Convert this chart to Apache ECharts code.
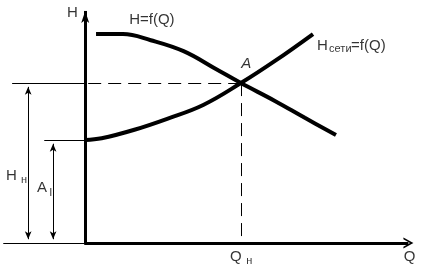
<!DOCTYPE html>
<html><head><meta charset="utf-8">
<script src="https://cdn.jsdelivr.net/npm/echarts@6/dist/echarts.min.js"></script>
<style>html,body{margin:0;padding:0;background:#fff}#c{width:421px;height:271px}</style>
</head><body><div id="c"></div>
<script>
// Pump characteristic H = f(Q)
const pumpQ = [3.3, 11.5, 20.0, 30.0, 40.0, 47.5, 58.0, 67.0, 76.5];
const pumpH = [87.8, 87.8, 85.2, 80.6, 73.0, 67.2, 59.6, 52.6, 45.4];
// Network characteristic Hсети = f(Q)
const netQ = [0, 5.0, 15.0, 25.0, 36.0, 47.5, 58.0, 69.5];
const netH = [43.3, 44.0, 47.6, 52.2, 58.0, 67.2, 76.6, 87.8];
// Operating point A and static head
const opQ = 47.5, opH = 67.2;
const staticH = 43.3;

const FONT = 'Liberation Sans';
const chev = 'path://M0,10 L5,0 L10,10 L8.4,10 L5,3.4 L1.6,10 Z';
const zip = (a, b) => a.map((v, i) => [v, b[i]]);

function lbl(q, h, text, size, extra) {
  return { value: [q, h], label: Object.assign({ formatter: text, fontSize: size }, extra || {}) };
}

const chart = echarts.init(document.getElementById('c'), null, { renderer: 'canvas' });
chart.setOption({
  animation: false,
  backgroundColor: '#fff',
  grid: { left: 0, right: 8, top: 5, bottom: 28 },
  xAxis: { type: 'value', min: -26, max: 100, show: false },
  yAxis: { type: 'value', min: 0, max: 100, show: false },
  series: [
    {
      name: 'pump', type: 'line', data: zip(pumpQ, pumpH), smooth: 0.4,
      showSymbol: false, lineStyle: { color: '#000', width: 4 }, silent: true
    },
    {
      name: 'net', type: 'line', data: zip(netQ, netH), smooth: 0.4,
      showSymbol: false, lineStyle: { color: '#000', width: 4 }, silent: true
    },
    {
      name: 'axes', type: 'line', data: [], silent: true,
      markLine: {
        silent: true, symbol: ['none', 'none'], label: { show: false },
        lineStyle: { color: '#000', width: 3, type: 'solid' },
        emphasis: { disabled: true },
        data: [
          [{ coord: [0, 0] }, { coord: [0, 97.5], symbol: 'arrow', symbolSize: [6, 12] }],
          [{ coord: [-0.3, 0] }, { coord: [98.6, 0], symbol: chev, symbolSize: [11, 10] }]
        ]
      }
    },
    {
      name: 'thin', type: 'line', data: [], silent: true,
      markLine: {
        silent: true, symbol: ['none', 'none'], label: { show: false },
        lineStyle: { color: '#000', width: 1, type: 'solid' },
        emphasis: { disabled: true },
        data: [
          [{ coord: [-25, 0] }, { coord: [0, 0] }],
          [{ coord: [-22.3, opH] }, { coord: [0, opH] }],
          [{ coord: [-12.5, staticH] }, { coord: [0, staticH] }],
          [{ coord: [-17.4, 1.6], symbol: 'arrow', symbolSize: [5, 8] },
           { coord: [-17.4, opH - 1.6], symbol: 'arrow', symbolSize: [5, 8] }],
          [{ coord: [-9.8, 1.6], symbol: 'arrow', symbolSize: [5, 8] },
           { coord: [-9.8, staticH - 1.6], symbol: 'arrow', symbolSize: [5, 8] }]
        ]
      }
    },
    {
      name: 'dash', type: 'line', data: [], silent: true,
      markLine: {
        silent: true, symbol: ['none', 'none'], label: { show: false },
        lineStyle: { color: '#000', width: 1, type: [13, 7] },
        emphasis: { disabled: true },
        data: [
          [{ coord: [0.9, opH] }, { coord: [opQ, opH] }],
          [{ coord: [opQ, opH] }, { coord: [opQ, 0] }]
        ]
      }
    },
    {
      name: 'labels', type: 'scatter', symbolSize: 0, clip: false, silent: true,
      label: { show: true, position: 'right', distance: 0, color: '#000', fontFamily: FONT },
      data: [
        lbl(-5.55, 96.6, 'H', 15),
        lbl(13.4, 93.7, 'H=f(Q)', 15),
        lbl(70.7, 82.8, 'H', 15),
        lbl(74.4, 81.6, 'сети', 11),
        lbl(81.1, 82.8, '=f(Q)', 15),
        lbl(47.6, 75.2, 'A', 15, { fontStyle: 'italic' }),
        lbl(-24.2, 28.2, 'H', 15),
        lbl(-19.6, 26.5, 'н', 11),
        lbl(-14.7, 23.1, 'A', 15),
        lbl(-11.0, 21.0, 'I', 11),
        lbl(44.2, -5.9, 'Q', 15),
        lbl(49.1, -7.6, 'н', 11),
        lbl(97.2, -5.9, 'Q', 15)
      ]
    }
  ]
});
</script></body></html>
